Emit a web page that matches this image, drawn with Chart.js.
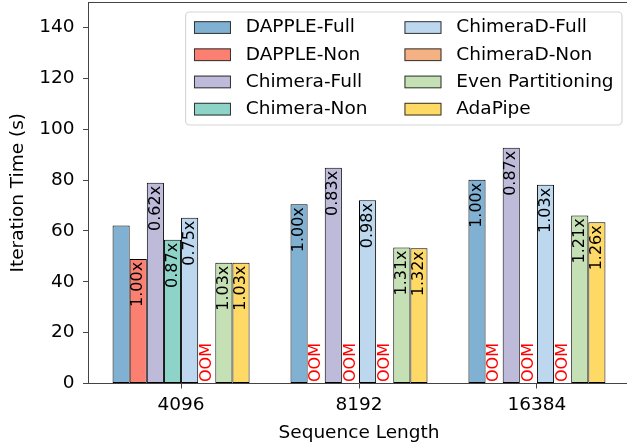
<!DOCTYPE html>
<html>
<head>
<meta charset="utf-8">
<script src="https://cdn.jsdelivr.net/npm/chart.js@4.4.1/dist/chart.umd.min.js"></script>
<style>
  html, body { margin: 0; padding: 0; background: #fff; overflow: hidden; }
  #wrap { width: 632px; height: 448px; }
</style>
</head>
<body>
<div id="wrap"><canvas id="chart" width="632" height="448"></canvas></div>
<script>
// data (seconds); null = OOM
const categories   = ['4096', '8192', '16384'];
const seriesNames  = ['DAPPLE-Full', 'DAPPLE-Non', 'Chimera-Full', 'Chimera-Non',
                      'ChimeraD-Full', 'ChimeraD-Non', 'Even Partitioning', 'AdaPipe'];
const dappleFull   = [62.1, 70.5, 80.1];
const dappleNon    = [49.0, null, null];
const chimeraFull  = [78.9, 84.8, 92.7];
const chimeraNon   = [56.5, null, null];
const chimeraDFull = [65.2, 72.1, 78.1];
const chimeraDNon  = [null, null, null];
const evenPart     = [47.5, 53.5, 66.1];
const adaPipe      = [47.5, 53.2, 63.4];

// speedup labels printed on the bars
const dappleFullLbl   = ['', '1.00x', '1.00x'];
const dappleNonLbl    = ['1.00x', '', ''];
const chimeraFullLbl  = ['0.62x', '0.83x', '0.87x'];
const chimeraNonLbl   = ['0.87x', '', ''];
const chimeraDFullLbl = ['0.75x', '0.98x', '1.03x'];
const chimeraDNonLbl  = ['', '', ''];
const evenPartLbl     = ['1.03x', '1.31x', '1.21x'];
const adaPipeLbl      = ['1.03x', '1.32x', '1.26x'];

const yTicks = [0, 20, 40, 60, 80, 100, 120, 140];

const seriesValues = [dappleFull, dappleNon, chimeraFull, chimeraNon,
                      chimeraDFull, chimeraDNon, evenPart, adaPipe];
const seriesLabels = [dappleFullLbl, dappleNonLbl, chimeraFullLbl, chimeraNonLbl,
                      chimeraDFullLbl, chimeraDNonLbl, evenPartLbl, adaPipeLbl];
const seriesColors = ['#80b1d3', '#fb8072', '#bebada', '#8dd3c7',
                      '#bdd7ee', '#f4b183', '#c5e0b4', '#ffd966'];

const FONT = 'DejaVu Sans';
const FS = 18.5;
const AXIS = '#444';

Chart.defaults.font.family = FONT;
Chart.defaults.color = '#000';

const datasets = seriesNames.map((name, s) => ({
  label: name,
  data: seriesValues[s].map((v, i) => ({ x: i, y: v })),
  backgroundColor: seriesColors[s],
  borderColor: '#000',
  borderWidth: 1,
  borderSkipped: false,
  categoryPercentage: 0.77,
  barPercentage: 1
}));

// top spine
const frame = {
  id: 'frame',
  afterDraw(chart) {
    const { ctx, chartArea } = chart;
    ctx.save();
    ctx.strokeStyle = AXIS;
    ctx.lineWidth = 1;
    ctx.beginPath();
    ctx.moveTo(chartArea.left, chartArea.top + 0.5);
    ctx.lineTo(chartArea.right, chartArea.top + 0.5);
    ctx.stroke();
    ctx.restore();
  }
};

// rotated speedup text and OOM markers
const barText = {
  id: 'barText',
  afterDatasetsDraw(chart) {
    const { ctx } = chart;
    const base = chart.scales.y.getPixelForValue(0);
    ctx.save();
    ctx.font = `16px "${FONT}"`;
    ctx.textBaseline = 'middle';
    chart.data.datasets.forEach((ds, s) => {
      chart.getDatasetMeta(s).data.forEach((bar, i) => {
        const v = seriesValues[s][i];
        const txt = seriesLabels[s][i];
        ctx.save();
        if (v === null) {
          ctx.translate(bar.x, base - 1.5);
          ctx.rotate(-Math.PI / 2);
          ctx.textAlign = 'left';
          ctx.fillStyle = '#ff0000';
          ctx.fillText('OOM', 0, 0);
        } else if (txt) {
          ctx.translate(bar.x, bar.y + 3);
          ctx.rotate(-Math.PI / 2);
          ctx.textAlign = 'right';
          ctx.fillStyle = '#000';
          ctx.fillText(txt, 0, 0);
        }
        ctx.restore();
      });
    });
    ctx.restore();
  }
};

// two-column legend in the upper right, matplotlib style
const legendBox = {
  id: 'legendBox',
  afterDraw(chart) {
    const { ctx, chartArea } = chart;
    ctx.save();
    ctx.font = `${FS}px "${FONT}"`;
    const cols = [seriesNames.slice(0, 4), seriesNames.slice(4)];
    const colText = cols.map(c => Math.max(...c.map(t => ctx.measureText(t).width)));
    const pad = 8.4, handle = 2 * FS, hgap = 0.8 * FS, cgap = 2 * FS, pitch = 27.2;
    const w = pad * 2 + 2 * (handle + hgap) + colText[0] + cgap + colText[1];
    const h = 113;
    const right = chartArea.right - 8;
    const top = chartArea.top + 10;
    const left = right - w;

    ctx.beginPath();
    ctx.roundRect(left, top, w, h, 4);
    ctx.fillStyle = 'rgba(255,255,255,0.8)';
    ctx.fill();
    ctx.strokeStyle = '#d6d6d6';
    ctx.lineWidth = 1.2;
    ctx.stroke();

    ctx.textBaseline = 'middle';
    ctx.textAlign = 'left';
    seriesNames.forEach((name, k) => {
      const c = Math.floor(k / 4), r = k % 4;
      const x0 = left + pad + c * (handle + hgap + colText[0] + cgap);
      const yc = top + 15.5 + r * pitch;
      ctx.fillStyle = seriesColors[k];
      ctx.fillRect(x0, yc - 6.3, handle, 12.7);
      ctx.strokeStyle = '#333';
      ctx.lineWidth = 1;
      ctx.strokeRect(x0 + 0.5, yc - 6.3 + 0.5, handle - 1, 12.7 - 1);
      ctx.fillStyle = '#000';
      ctx.fillText(name, x0 + handle + hgap, yc);
    });
    ctx.restore();
  }
};

new Chart(document.getElementById('chart'), {
  type: 'bar',
  data: { datasets },
  plugins: [frame, barText, legendBox],
  options: {
    responsive: false,
    animation: false,
    devicePixelRatio: 1,
    layout: { padding: { top: 2, right: 2, bottom: 0, left: 0 } },
    plugins: { legend: { display: false }, tooltip: { enabled: false } },
    scales: {
      x: {
        type: 'linear',
        min: -0.523,
        max: 2.523,
        offset: false,
        grid: { offset: false, drawOnChartArea: false, drawTicks: true, tickLength: 5, color: AXIS },
        border: { display: true, color: AXIS, width: 1 },
        afterBuildTicks: scale => { scale.ticks = categories.map((c, i) => ({ value: i })); },
        afterFit: scale => {
          scale.height = 64.5;
          scale.paddingLeft = 0;
          scale.paddingRight = 0;
        },
        ticks: {
          padding: 6,
          font: { size: FS },
          color: '#000',
          maxRotation: 0,
          autoSkip: false,
          callback: v => categories[v]
        },
        title: {
          display: true,
          text: 'Sequence Length',
          font: { size: FS },
          color: '#000',
          padding: { top: 0, bottom: 4 }
        }
      },
      y: {
        min: 0,
        max: 150,
        grid: { drawOnChartArea: false, drawTicks: true, tickLength: 5, color: AXIS },
        border: { display: true, color: AXIS, width: 1 },
        afterBuildTicks: scale => { scale.ticks = yTicks.map(v => ({ value: v })); },
        afterFit: scale => {
          scale.width = 88;
          scale.paddingTop = 0;
          scale.paddingBottom = 0;
        },
        ticks: { padding: 8.5, font: { size: FS }, color: '#000' },
        title: {
          display: true,
          text: 'Iteration Time (s)',
          font: { size: FS },
          color: '#000',
          padding: { top: 7, bottom: 0 }
        }
      }
    }
  }
});
</script>
</body>
</html>
